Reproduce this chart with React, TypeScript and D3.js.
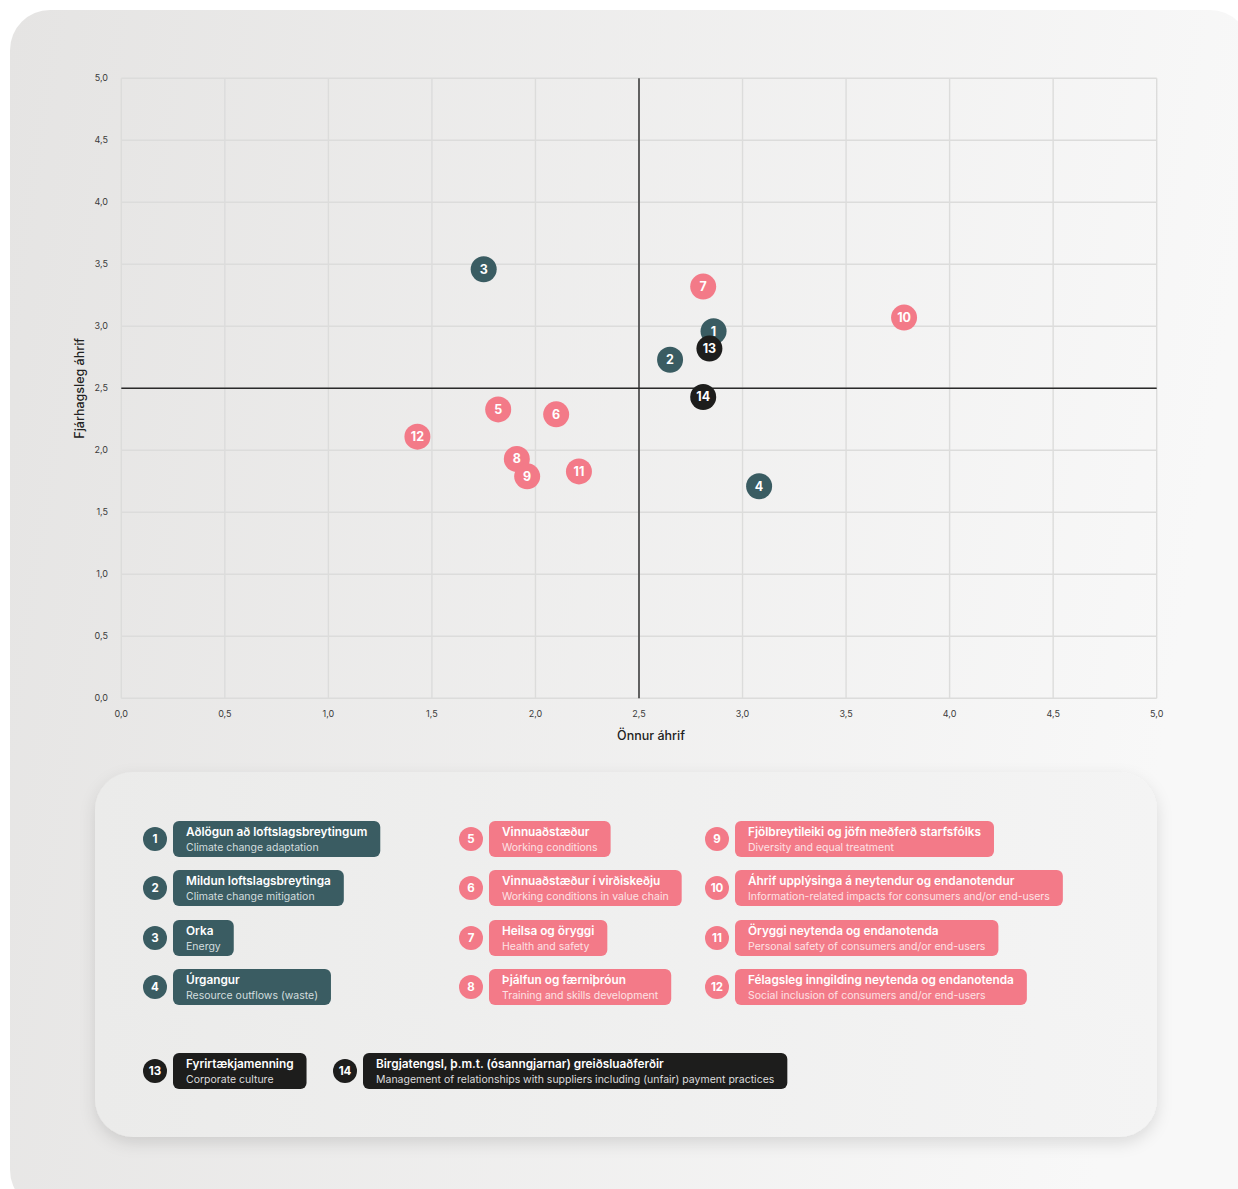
import React, { useMemo } from "react";
import * as d3 from "d3";

// ---------- DATA ----------
const TOPIC_IDS = [1, 2, 3, 4, 5, 6, 7, 8, 9, 10, 11, 12, 13, 14];
const TOPIC_GROUPS = ["env", "env", "env", "env", "soc", "soc", "soc", "soc", "soc", "soc", "soc", "soc", "gov", "gov"];
const OTHER_IMPACT = [2.86, 2.65, 1.75, 3.08, 1.82, 2.1, 2.81, 1.91, 1.96, 3.78, 2.21, 1.43, 2.84, 2.81];
const FINANCIAL_IMPACT = [2.96, 2.73, 3.46, 1.71, 2.33, 2.29, 3.32, 1.93, 1.79, 3.07, 1.83, 2.11, 2.82, 2.43];
const TITLES_IS = [
  "Aðlögun að loftslagsbreytingum",
  "Mildun loftslagsbreytinga",
  "Orka",
  "Úrgangur",
  "Vinnuaðstæður",
  "Vinnuaðstæður í virðiskeðju",
  "Heilsa og öryggi",
  "Þjálfun og færniþróun",
  "Fjölbreytileiki og jöfn meðferð starfsfólks",
  "Áhrif upplýsinga á neytendur og endanotendur",
  "Öryggi neytenda og endanotenda",
  "Félagsleg inngilding neytenda og endanotenda",
  "Fyrirtækjamenning",
  "Birgjatengsl, þ.m.t. (ósanngjarnar) greiðsluaðferðir",
];
const TITLES_EN = [
  "Climate change adaptation",
  "Climate change mitigation",
  "Energy",
  "Resource outflows (waste)",
  "Working conditions",
  "Working conditions in value chain",
  "Health and safety",
  "Training and skills development",
  "Diversity and equal treatment",
  "Information-related impacts for consumers and/or end-users",
  "Personal safety of consumers and/or end-users",
  "Social inclusion of consumers and/or end-users",
  "Corporate culture",
  "Management of relationships with suppliers including (unfair) payment practices",
];
const TICKS = [0, 0.5, 1, 1.5, 2, 2.5, 3, 3.5, 4, 4.5, 5];
const X_TITLE = "Önnur áhrif";
const Y_TITLE = "Fjárhagsleg áhrif";

// ---------- STYLE ----------
const W = 1238;
const H = 1189;
const FONT = "Inter, 'Open Sans', sans-serif";
const TITLE_SIZE = 11.8;
const SUB_SIZE = 10.5;
const COLORS: Record<string, string> = { env: "#3a5c62", soc: "#f37a88", gov: "#1d1d1c" };
const SUB_COLORS: Record<string, string> = { env: "#d3dedf", soc: "#fde2e5", gov: "#dcdcdc" };

let _ctx: CanvasRenderingContext2D | null = null;
function measure(text: string, font: string): number {
  if (!_ctx) _ctx = document.createElement("canvas").getContext("2d");
  if (!_ctx) return text.length * 6;
  _ctx.font = font;
  return _ctx.measureText(text).width;
}

const fmt = (v: number) => d3.format(".1f")(v).replace(".", ",");

export default function App() {
  const x = d3.scaleLinear().domain([0, 5]).range([121.3, 1156.7]);
  const y = d3.scaleLinear().domain([0, 5]).range([698.3, 78.3]);

  const legend = useMemo(() => {
    const colX = [155, 471, 717];
    const rowY = [839, 888, 938, 987];
    return TOPIC_IDS.map((id, i) => {
      let cx: number, cy: number;
      if (i < 12) {
        cx = colX[Math.floor(i / 4)];
        cy = rowY[i % 4];
      } else {
        cx = i === 12 ? 155 : 345;
        cy = 1071;
      }
      const tw = measure(TITLES_IS[i], `600 ${TITLE_SIZE}px ${FONT}`);
      const sw = measure(TITLES_EN[i], `400 ${SUB_SIZE}px ${FONT}`);
      const bw = Math.max(tw, sw) + 26;
      return { id, i, cx, cy, bw };
    });
  }, []);

  return (
    <div style={{ position: "absolute", left: 0, top: 0, width: W, height: H, background: "#fff" }}>
      <svg width={W} height={H} style={{ display: "block", fontFamily: FONT }}>
        <defs>
          <linearGradient id="cardGrad" x1="0" y1="0" x2="1" y2="0.15">
            <stop offset="0" stopColor="#e5e4e3" />
            <stop offset="1" stopColor="#f8f8f8" />
          </linearGradient>
          <linearGradient id="legGrad" x1="0" y1="0" x2="1" y2="0">
            <stop offset="0" stopColor="#ebebea" />
            <stop offset="1" stopColor="#f4f4f4" />
          </linearGradient>
          <filter id="shadow" x="-10%" y="-20%" width="120%" height="150%">
            <feDropShadow dx="0" dy="6" stdDeviation="8" floodColor="#000" floodOpacity="0.12" />
          </filter>
        </defs>
        <rect x={10} y={10} width={1240} height={1200} rx={40} fill="url(#cardGrad)" />

        {/* grid */}
        <g>
          {TICKS.map((t) => (
            <line key={"gx" + t} x1={x(t)} x2={x(t)} y1={y(0)} y2={y(5)} stroke="#dcdcdb" strokeWidth={1.4} />
          ))}
          {TICKS.map((t) => (
            <line key={"gy" + t} x1={x(0)} x2={x(5)} y1={y(t)} y2={y(t)} stroke="#dcdcdb" strokeWidth={1.4} />
          ))}
        </g>
        {/* quadrant lines */}
        <line x1={x(2.5)} x2={x(2.5)} y1={y(0)} y2={y(5)} stroke="#2a2a2a" strokeWidth={1.4} />
        <line x1={x(0)} x2={x(5)} y1={y(2.5)} y2={y(2.5)} stroke="#2a2a2a" strokeWidth={1.4} />

        {/* tick labels */}
        {TICKS.map((t) => (
          <text key={"ty" + t} x={108} y={y(t) + 3} textAnchor="end" fontSize={9} fill="#3a3a3a">
            {fmt(t)}
          </text>
        ))}
        {TICKS.map((t) => (
          <text key={"tx" + t} x={x(t)} y={717} textAnchor="middle" fontSize={9} fill="#3a3a3a">
            {fmt(t)}
          </text>
        ))}
        <text x={651} y={740} textAnchor="middle" fontSize={12.5} fontWeight={500} fill="#222">
          {X_TITLE}
        </text>
        <text
          transform={`translate(84, ${y(2.5)}) rotate(-90)`}
          textAnchor="middle"
          fontSize={12.5}
          fontWeight={500}
          fill="#222"
        >
          {Y_TITLE}
        </text>

        {/* points */}
        {TOPIC_IDS.map((id, i) => (
          <g key={"p" + id} transform={`translate(${x(OTHER_IMPACT[i])}, ${y(FINANCIAL_IMPACT[i])})`}>
            <circle r={13} fill={COLORS[TOPIC_GROUPS[i]]} />
            <text y={4.5} textAnchor="middle" fontSize={12.5} fontWeight={700} fill="#fff">
              {id}
            </text>
          </g>
        ))}

        {/* legend panel */}
        <rect x={95} y={772} width={1062} height={365} rx={38} fill="url(#legGrad)" filter="url(#shadow)" />
        {legend.map(({ id, i, cx, cy, bw }) => {
          const g = TOPIC_GROUPS[i];
          const bx = cx + 18;
          return (
            <g key={"l" + id}>
              <circle cx={cx} cy={cy} r={12} fill={COLORS[g]} />
              <text x={cx} y={cy + 4} textAnchor="middle" fontSize={11.5} fontWeight={700} fill="#fff">
                {id}
              </text>
              <rect x={bx} y={cy - 18} width={bw} height={36} rx={6} fill={COLORS[g]} />
              <text x={bx + 13} y={cy - 3} fontSize={TITLE_SIZE} fontWeight={600} fill="#fff">
                {TITLES_IS[i]}
              </text>
              <text x={bx + 13} y={cy + 12} fontSize={SUB_SIZE} fontWeight={400} fill={SUB_COLORS[g]}>
                {TITLES_EN[i]}
              </text>
            </g>
          );
        })}
      </svg>
    </div>
  );
}
